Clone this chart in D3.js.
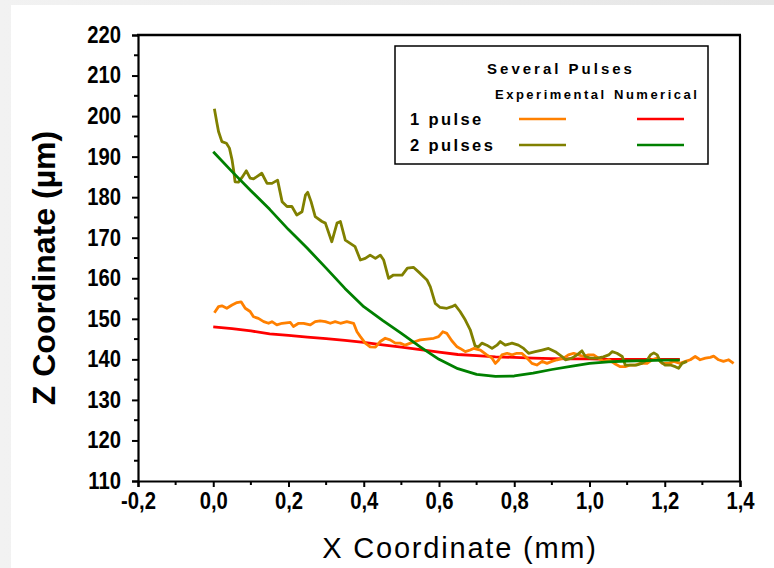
<!DOCTYPE html>
<html>
<head>
<meta charset="utf-8">
<script src="https://cdn.jsdelivr.net/npm/d3@7"></script>
<style>
  html, body { margin: 0; padding: 0; background: #fff; }
  svg { display: block; }
  text { font-family: "Liberation Sans", Arial, sans-serif; }
</style>
</head>
<body>
<div id="chart"></div>
<script>
// ---------- DATA ----------
const xTickValues = [-0.2, 0.0, 0.2, 0.4, 0.6, 0.8, 1.0, 1.2, 1.4];
const yTickValues = [110, 120, 130, 140, 150, 160, 170, 180, 190, 200, 210, 220];

const legendTitle = "Several Pulses";
const legendColumns = ["Experimental", "Numerical"];
const seriesRows = ["1 pulse", "2 pulses"];

// 1 pulse, experimental (orange)
const pulse1Exp = [
  [0.003,151.5],[0.014,153.0],[0.023,153.2],[0.036,152.6],[0.050,153.4],[0.063,154.0],[0.074,154.2],
  [0.085,152.6],[0.098,151.8],[0.107,150.5],[0.120,150.1],[0.134,149.3],[0.147,148.9],[0.156,149.3],
  [0.169,148.5],[0.183,148.9],[0.205,149.1],[0.213,148.1],[0.227,148.9],[0.240,148.9],[0.258,148.5],
  [0.271,149.3],[0.284,149.5],[0.298,149.3],[0.311,148.9],[0.324,149.3],[0.338,148.9],[0.355,149.3],
  [0.373,148.9],[0.382,146.8],[0.391,145.6],[0.404,144.0],[0.417,143.1],[0.431,143.0],[0.444,144.4],
  [0.457,145.2],[0.470,144.8],[0.484,144.0],[0.497,144.0],[0.510,143.5],[0.524,144.0],[0.537,144.4],
  [0.550,144.8],[0.568,145.0],[0.586,145.2],[0.599,145.6],[0.610,146.8],[0.621,146.4],[0.634,144.6],
  [0.648,143.1],[0.656,142.7],[0.670,141.9],[0.683,142.3],[0.692,142.7],[0.710,142.3],[0.727,141.1],
  [0.741,140.3],[0.750,139.0],[0.758,139.8],[0.767,141.1],[0.781,141.5],[0.794,141.1],[0.807,141.5],
  [0.820,141.5],[0.834,140.3],[0.847,139.0],[0.860,138.6],[0.874,139.5],[0.887,139.0],[0.900,139.5],
  [0.914,139.9],[0.931,140.3],[0.944,141.1],[0.958,141.5],[0.971,141.1],[0.984,140.7],[0.997,141.1],
  [1.011,141.1],[1.024,140.3],[1.037,139.5],[1.051,139.9],[1.066,139.0],[1.082,138.2],[1.095,138.2],
  [1.108,138.6],[1.122,138.6],[1.135,139.0],[1.153,139.0],[1.166,139.9],[1.180,140.3],[1.193,139.0],
  [1.211,139.0],[1.224,139.5],[1.241,139.0],[1.255,139.5],[1.268,139.9],[1.281,140.7],[1.294,139.9],
  [1.308,140.3],[1.321,140.5],[1.330,140.8],[1.343,139.9],[1.356,139.5],[1.370,139.9],[1.383,139.0]
];

// 1 pulse, numerical (red)
const pulse1Num = [
  [0.00,148.0],[0.05,147.6],[0.10,147.0],[0.15,146.3],[0.20,145.9],[0.25,145.5],[0.30,145.1],
  [0.35,144.7],[0.40,144.2],[0.45,143.6],[0.50,143.0],[0.55,142.4],[0.60,141.8],[0.65,141.2],
  [0.70,140.9],[0.75,140.6],[0.80,140.5],[0.85,140.3],[0.90,140.2],[0.95,140.1],[1.00,140.1],
  [1.05,140.0],[1.10,140.0],[1.15,140.0],[1.20,140.0],[1.24,140.0]
];

// 2 pulses, experimental (olive)
const pulse2Exp = [
  [0.003,201.8],[0.010,198.2],[0.014,196.2],[0.023,193.7],[0.035,193.3],[0.043,192.1],[0.050,189.2],
  [0.054,186.7],[0.058,183.8],[0.067,183.7],[0.076,184.8],[0.088,186.5],[0.098,184.7],[0.107,184.5],
  [0.129,185.9],[0.143,183.4],[0.156,183.4],[0.171,184.2],[0.183,178.9],[0.196,177.7],[0.209,177.7],
  [0.222,175.6],[0.236,176.4],[0.245,180.5],[0.251,181.2],[0.260,178.9],[0.271,175.2],[0.289,174.0],
  [0.298,173.6],[0.315,169.0],[0.329,173.6],[0.338,174.0],[0.351,169.4],[0.364,168.6],[0.377,167.8],
  [0.391,164.5],[0.404,164.9],[0.417,165.7],[0.431,164.9],[0.444,165.7],[0.453,164.5],[0.466,160.0],
  [0.479,160.8],[0.502,160.8],[0.516,162.5],[0.532,162.7],[0.550,161.2],[0.568,159.6],[0.577,157.9],
  [0.590,153.8],[0.603,152.8],[0.621,152.6],[0.634,153.0],[0.643,153.4],[0.656,151.8],[0.670,149.7],
  [0.683,147.3],[0.696,143.3],[0.705,143.1],[0.714,144.0],[0.727,143.5],[0.741,142.7],[0.754,143.5],
  [0.763,144.4],[0.776,143.5],[0.794,144.0],[0.811,143.5],[0.825,142.7],[0.838,141.5],[0.856,141.9],
  [0.874,142.3],[0.891,142.7],[0.909,141.9],[0.927,140.7],[0.936,139.9],[0.953,140.3],[0.967,141.1],
  [0.980,142.1],[0.989,140.7],[1.002,140.3],[1.020,140.3],[1.037,140.6],[1.051,141.1],[1.060,141.9],
  [1.073,141.5],[1.087,140.7],[1.095,138.6],[1.108,138.6],[1.126,138.6],[1.139,139.0],[1.153,139.8],
  [1.162,141.1],[1.171,141.6],[1.180,141.1],[1.188,139.5],[1.201,138.6],[1.215,138.6],[1.228,138.2],
  [1.237,137.8],[1.246,139.0],[1.259,139.5]
];

// 2 pulses, numerical (green)
const pulse2Num = [
  [0.00,191.2],[0.05,186.3],[0.10,181.6],[0.15,177.0],[0.20,172.0],[0.25,167.4],[0.30,162.5],
  [0.35,157.5],[0.40,153.0],[0.45,149.6],[0.50,146.4],[0.55,143.1],[0.60,140.0],[0.65,137.7],
  [0.70,136.3],[0.75,135.8],[0.80,135.9],[0.85,136.6],[0.90,137.5],[0.95,138.3],[1.00,139.0],
  [1.05,139.4],[1.10,139.6],[1.15,139.7],[1.20,139.8],[1.24,139.8]
];

// ---------- DRAW ----------
const W = 774, H = 568;
const svg = d3.select("#chart").append("svg").attr("width", W).attr("height", H);

// background frame
const defs = svg.append("defs");
const grad = defs.append("linearGradient").attr("id", "bg").attr("x1", 0).attr("y1", 0).attr("x2", 1).attr("y2", 0);
grad.append("stop").attr("offset", "0%").attr("stop-color", "#f2f2f2");
grad.append("stop").attr("offset", "100%").attr("stop-color", "#e6e6e6");
svg.append("rect").attr("width", W).attr("height", H).attr("fill", "url(#bg)");
svg.append("rect").attr("x", 11).attr("y", 5).attr("width", W - 11).attr("height", H - 5).attr("fill", "#fff");

const x = d3.scaleLinear().domain([-0.2, 1.4]).range([138, 740]);
const y = d3.scaleLinear().domain([110, 220]).range([481, 35]);

const fmtX = d => d3.format(".1f")(d).replace(".", ",").replace("\u2212", "-");

const labelSize = 23, squeeze = 0.88;

// minor ticks
const xMinor = d3.range(-0.1, 1.4, 0.2);
const yMinor = d3.range(115, 220, 10);

const gx = svg.append("g").attr("transform", `translate(0,${y(110)})`);
gx.call(d3.axisBottom(x).tickValues(xTickValues).tickFormat(fmtX).tickSize(6).tickPadding(6));
gx.selectAll(".domain").attr("stroke", "#000").attr("stroke-width", 2.2);
gx.selectAll(".tick line").attr("stroke", "#000").attr("stroke-width", 2);
gx.selectAll(".tick text").attr("font-size", labelSize).attr("font-weight", "bold").attr("fill", "#000")
  .attr("font-family", "Liberation Sans, Arial, sans-serif")
  .attr("transform", `scale(${squeeze},1)`);
gx.append("g").selectAll("line").data(xMinor).join("line")
  .attr("x1", d => x(d)).attr("x2", d => x(d)).attr("y1", 0).attr("y2", 4)
  .attr("stroke", "#000").attr("stroke-width", 2);

const gy = svg.append("g").attr("transform", `translate(${x(-0.2)},0)`);
gy.call(d3.axisLeft(y).tickValues(yTickValues).tickSize(6).tickPadding(11));
gy.selectAll(".domain").attr("stroke", "#000").attr("stroke-width", 2.2);
gy.selectAll(".tick line").attr("stroke", "#000").attr("stroke-width", 2);
gy.selectAll(".tick text").attr("font-size", labelSize).attr("font-weight", "bold").attr("fill", "#000")
  .attr("font-family", "Liberation Sans, Arial, sans-serif")
  .attr("x", -17 / squeeze)
  .attr("transform", `scale(${squeeze},1)`);
gy.append("g").selectAll("line").data(yMinor).join("line")
  .attr("y1", d => y(d)).attr("y2", d => y(d)).attr("x1", 0).attr("x2", -4)
  .attr("stroke", "#000").attr("stroke-width", 2);

// top & right borders
svg.append("line").attr("x1", x(-0.2) - 1).attr("x2", x(1.4) + 1).attr("y1", y(220)).attr("y2", y(220))
  .attr("stroke", "#000").attr("stroke-width", 2.6);
svg.append("line").attr("x1", x(1.4)).attr("x2", x(1.4)).attr("y1", y(220)).attr("y2", y(110))
  .attr("stroke", "#000").attr("stroke-width", 2.2);

// axis titles
svg.append("text").attr("x", 460).attr("y", 558).attr("text-anchor", "middle")
  .attr("font-size", 29).attr("letter-spacing", 1.8).attr("fill", "#000")
  .text("X Coordinate (mm)");
svg.append("text").attr("transform", `translate(55,${(y(220)+y(110))/2 + 10}) rotate(-90)`)
  .attr("text-anchor", "middle").attr("font-size", 32).attr("font-weight", "bold").attr("fill", "#000")
  .text("Z Coordinate (µm)");

// data lines
const line = d3.line().x(d => x(d[0])).y(d => y(d[1]));
const series = [
  { data: pulse1Num, color: "#ff0000" },
  { data: pulse1Exp, color: "#ff8000" },
  { data: pulse2Exp, color: "#808000" },
  { data: pulse2Num, color: "#008000" }
];
svg.append("g").selectAll("path").data(series).join("path")
  .attr("d", d => line(d.data)).attr("fill", "none")
  .attr("stroke", d => d.color).attr("stroke-width", 2.8).attr("stroke-linejoin", "round");

// legend
const lg = svg.append("g");
lg.append("rect").attr("x", 395).attr("y", 46).attr("width", 313).attr("height", 118)
  .attr("fill", "#fff").attr("stroke", "#000").attr("stroke-width", 1.5);
lg.append("text").attr("x", 561).attr("y", 74).attr("text-anchor", "middle")
  .attr("font-size", 15).attr("font-weight", "bold").attr("letter-spacing", 3).text(legendTitle);
lg.append("text").attr("x", 495).attr("y", 99).attr("font-size", 13).attr("font-weight", "bold")
  .attr("letter-spacing", 2.5).text(legendColumns[0]);
lg.append("text").attr("x", 614).attr("y", 99).attr("font-size", 13).attr("font-weight", "bold")
  .attr("letter-spacing", 2.5).text(legendColumns[1]);
const rowY = [119, 145];
const rowColors = [["#ff8000", "#ff0000"], ["#808000", "#008000"]];
seriesRows.forEach((lab, i) => {
  lg.append("text").attr("x", 410).attr("y", rowY[i] + 6).attr("font-size", 16.5).attr("font-weight", "bold")
    .attr("letter-spacing", 2.4).text(lab);
  lg.append("line").attr("x1", 519).attr("x2", 566).attr("y1", rowY[i]).attr("y2", rowY[i])
    .attr("stroke", rowColors[i][0]).attr("stroke-width", 2.6);
  lg.append("line").attr("x1", 637).attr("x2", 684).attr("y1", rowY[i]).attr("y2", rowY[i])
    .attr("stroke", rowColors[i][1]).attr("stroke-width", 2.6);
});
</script>
</body>
</html>
